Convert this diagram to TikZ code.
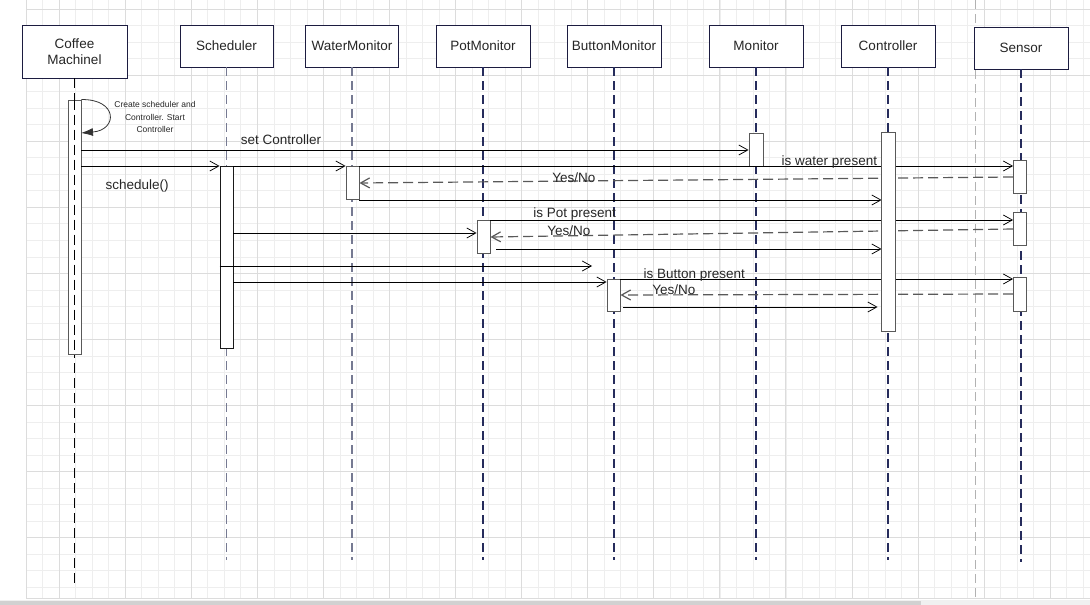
\documentclass[tikz,border=0pt]{standalone}
\usepackage{fontspec}
\setmainfont{Liberation Sans}
\usetikzlibrary{arrows.meta, positioning}

\definecolor{headline}{HTML}{1C1C40}
\definecolor{lifegrey}{HTML}{767A92}
\definecolor{lifenavy}{HTML}{262C5C}
\definecolor{gridminor}{HTML}{EEEEEE}
\definecolor{gridmajor}{HTML}{DCDCDC}

\begin{document}
\begin{tikzpicture}[
            x = 1pt, y = -1pt,
            > = {Straight Barb[length=9pt, width=10pt]},
            font = \fontsize{13.5}{16}\selectfont,
            text = black!85
        ]

        \tikzstyle{head}=[
            draw = headline,
            line width = 0.9pt,
            fill = white,
            minimum width = 93,
            minimum height = 42,
            inner sep = 2pt,
            align = center
        ]
        \tikzstyle{act}=[
            draw = black!65,
            line width = 0.9pt,
            fill = white,
            minimum width = 13,
            inner sep = 0pt
        ]
        \tikzstyle{lifeA}=[black, line width = 1pt, dash pattern = on 10pt off 5pt]
        \tikzstyle{lifeB}=[lifegrey, line width = 1.5pt, dash pattern = on 9pt off 5pt]
        \tikzstyle{lifeC}=[lifenavy, line width = 1.2pt, dash pattern = on 9pt off 5pt]
        \tikzstyle{msg}=[->, black, line width = 0.75pt]
        \tikzstyle{reply}=[->, black!65, line width = 1.2pt, dash pattern = on 10pt off 5pt]
        \tikzstyle{lbl}=[anchor = base, inner sep = 0pt, text = black!85]

        \useasboundingbox (0,0) rectangle (1090,605);

        % background grid
        \foreach \i in {0,...,64}
            \draw[gridminor, line width = 0.6pt] ({26+16.52*\i},0) -- ({26+16.52*\i},598);
        \foreach \j in {0,...,35}
            \draw[gridminor, line width = 0.6pt] (26,{9+16.52*\j}) -- (1090,{9+16.52*\j});
        \foreach \i in {0,...,15}
            \draw[gridmajor, line width = 0.8pt] ({59+66.08*\i},0) -- ({59+66.08*\i},598);
        \foreach \j in {0,...,8}
            \draw[gridmajor, line width = 0.8pt] (26,{9+66.08*\j}) -- (1090,{9+66.08*\j});
        \draw[gridmajor, line width = 0.8pt] (26,0) -- (26,598) -- (1090,598);
        \draw[black!30, line width = 0.9pt, dash pattern = on 9pt off 5pt] (975,0) -- (975,598);
        \fill[black!6] (0,600) rectangle (1090,605);
        \fill[black!18] (0,600.5) rectangle (921,605);

        % lifeline heads
        \node[head, minimum width = 105, minimum height = 53] (cm) at (74.5,51.5) {Coffee\\Machinel};
        \node[head] (sch) at (226.5,46) {Scheduler};
        \node[head] (wm) at (352,46) {WaterMonitor};
        \node[head, minimum width = 94] (pm) at (483,46) {PotMonitor};
        \node[head, minimum width = 94] (bm) at (614,46) {ButtonMonitor};
        \node[head, minimum width = 94] (mon) at (756,46) {Monitor};
        \node[head, minimum width = 94] (ctl) at (888,46) {Controller};
        \node[head, minimum width = 94] (sen) at (1021,48) {Sensor};

        % lifelines
        \foreach \n/\e/\s in {cm/588/lifeA, sch/560/lifeB, wm/560/lifeB, pm/560/lifeC,
                              bm/560/lifeC, mon/560/lifeC, ctl/560/lifeC, sen/562/lifeC}
            \draw[\s] (\n.south) -- (\n.south |- 0,\e);

        % activations
        \node[act, minimum height = 254] (cmA) at (74.5,227) {};
        \draw[lifeA] (cmA.north) -- (cmA.south);
        \node[act, draw = black!90, minimum height = 182] (schA) at (226.5,257) {};
        \node[act, minimum height = 33] (wmA) at (352.5,182.5) {};
        \node[act, minimum height = 33] (pmA) at (483.5,236.5) {};
        \node[act, minimum height = 32] (bmA) at (613.5,295) {};
        \node[act, minimum width = 14, minimum height = 33] (monA) at (756,149.5) {};
        \node[act, minimum height = 198] (ctlA) at (888.5,232) {};
        \node[act, minimum height = 33] (senA1) at (1020,176.5) {};
        \node[act, minimum height = 33] (senA2) at (1020,228.5) {};
        \node[act, minimum height = 34] (senA3) at (1020,294) {};

        % self call
        \coordinate (selfIn) at (81,133);
        \draw[black!80, line width = 0.8pt, -{Latex[length=12pt, width=8pt]}]
            (cmA.north east) .. controls (118,99) and (118,130) .. (selfIn);
        \node[font = \fontsize{8.5}{12.5}\selectfont, align = center] (selfLbl) at (155,117)
            {Create scheduler and\\Controller. Start\\Controller};

        % messages
        \draw[msg] (cmA.east |- 0,150) -- node[lbl, pos=0.299, yshift=6pt] {set Controller} (monA.west |- 0,150);
        \draw[msg] (cmA.east |- 0,166) -- node[lbl, pos=0.403, yshift=-23pt] {schedule()} (schA.west |- 0,166);
        \draw[msg] (schA.east |- 0,166) -- (wmA.west |- 0,166);
        \draw[msg] (wmA.east |- 0,166) -- node[lbl, pos=0.719, yshift=0.5pt] {is water present} (senA1.west |- 0,166);
        \draw[reply] (senA1.west |- 0,177) -- node[lbl, pos=0.672, yshift=-1pt] {Yes/No} (wmA.east |- 0,183);
        \draw[msg] (wmA.east |- 0,200) -- (ctlA.west |- 0,200);

        \draw[msg] (pmA.east |- 0,220) -- node[lbl, pos=0.161, yshift=3pt] {is Pot present} (senA2.west |- 0,220);
        \draw[msg] (schA.east |- 0,233) -- (pmA.west |- 0,233);
        \draw[reply] (senA2.west |- 0,229) -- node[lbl, pos=0.85, yshift=0.5pt] {Yes/No} (pmA.east |- 0,237);
        \draw[msg, shorten < = 6pt] (pmA.east |- 0,249) -- (ctlA.west |- 0,249);

        \coordinate (bmIn) at (592,266);
        \draw[msg] (schA.west |- 0,266) -- (bmIn);
        \draw[msg] (schA.east |- 0,282) -- (bmA.west |- 0,282);
        \draw[msg] (bmA.east |- 0,279) -- node[lbl, pos=0.188, yshift=0.5pt] {is Button present} (senA3.west |- 0,279);
        \draw[reply] (senA3.west |- 0,294) -- node[lbl, pos=0.864, yshift=0pt] {Yes/No} (bmA.east |- 0,295);
        \draw[msg, shorten < = 3pt, shorten > = 4pt] (bmA.east |- 0,307) -- (ctlA.west |- 0,307);

        % controller bar over the crossing lines
        \draw[act, draw = black!65] (ctlA.south west) rectangle (ctlA.north east);

    \end{tikzpicture}
\end{document}
